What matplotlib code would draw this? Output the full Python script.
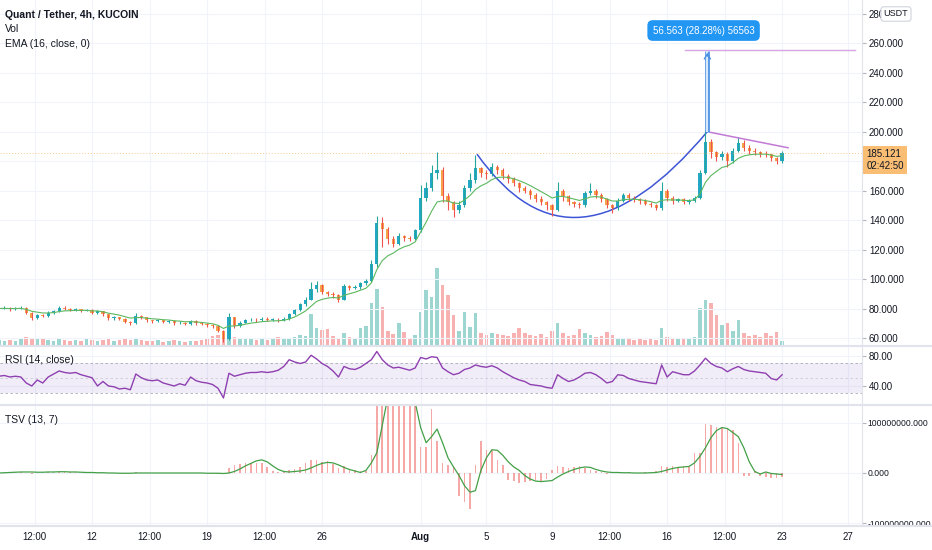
import numpy as np
import pandas as pd
import matplotlib
matplotlib.use("Agg")
import matplotlib.pyplot as plt
from matplotlib.lines import Line2D
from matplotlib.path import Path
from matplotlib.patches import PathPatch
from matplotlib.ticker import FuncFormatter
from matplotlib.transforms import blended_transform_factory

plt.rcParams['font.family'] = ['Liberation Sans', 'DejaVu Sans']

# ---- data, 8h bars (days counted from Jul 12) ----
close = [80, 80.5, 79.5, 80, 80.5, 77, 73.5, 75.5, 75, 77, 78, 80.5,
         80, 79, 79.5, 78.5, 79, 77, 78, 76, 73.5, 74, 73, 71,
         70, 75, 74, 72, 71.5, 72, 71, 71.5, 70, 70.5, 69.5, 71.5,
         70, 69.5, 68.5, 68, 65, 59, 74, 68, 70.5, 72, 72.5, 72,
         73, 72.5, 72.5, 72, 73, 76, 79, 83, 86, 93, 96, 91,
         90, 89, 86, 95, 94, 94.5, 97, 98.5, 110, 138, 134, 127,
         124, 129, 128, 127, 133, 155, 162, 172, 174, 156, 152, 147,
         150, 162, 167, 175, 172, 171, 176, 174, 170, 168, 165, 162,
         160, 157, 154, 152, 150, 147, 160, 156, 152, 151, 150, 158,
         160, 157, 154, 150, 148, 153, 157, 155, 154, 153, 151, 150,
         148, 160, 155, 153, 154, 152, 153, 155, 172, 193, 186, 183,
         185, 180, 187, 192, 189, 187, 186, 185, 184.5, 182, 180, 185.121]

high = [81.5, 82, 81, 81, 82, 81, 77.5, 76.5, 76.5, 78, 79, 81.5,
        81.5, 80.5, 80.5, 80, 80, 79.5, 79, 78.5, 76.5, 75, 74.5, 73.5,
        71.5, 77, 75.5, 74.5, 72.5, 73, 72.5, 72.5, 72, 71.5, 71, 72.5,
        72, 71, 70, 69.5, 68.5, 65.5, 77, 74.5, 71.5, 73, 73.5, 73.5,
        74, 74, 73.5, 73.5, 74, 77, 80, 84, 87.5, 98, 98.5, 96.5,
        92, 91, 89.5, 96.5, 96, 96, 98, 100, 113, 143, 142, 135,
        129, 131, 130, 129.5, 134, 164, 166, 177, 186, 176, 158, 153,
        153, 164, 172, 184, 176, 174, 179, 177, 175, 171, 169, 166,
        163, 161, 158, 156, 153, 151, 166, 161, 157, 153, 152, 160,
        165, 161, 158, 155, 151, 155, 158, 158, 156, 155, 154, 152,
        151, 166, 161, 156, 155, 155, 154, 156, 174, 201, 195, 187,
        187, 186, 189, 196, 194, 191, 189, 187, 186.5, 185, 183, 187]

low = [79, 79.5, 78.5, 79, 79.5, 76, 72.5, 73, 74, 74.5, 76.5, 77.5,
       79, 78, 78.5, 77.5, 78, 76, 76.5, 75, 72.5, 72.5, 72, 70,
       69, 69.5, 73, 71, 70.5, 71, 70, 70.5, 69, 69.5, 68.5, 69,
       69, 68.5, 67.5, 67, 64, 57.5, 58.5, 66.5, 67.5, 70, 71.5, 71,
       71.5, 71.5, 71.5, 71, 71.5, 72.5, 75.5, 78.5, 82, 85.5, 91, 89.5,
       88.5, 87, 84.5, 85.5, 92.5, 93, 93.5, 96, 98, 108, 122, 124,
       121.5, 123, 126, 125.5, 126.5, 132, 153, 160, 168, 152, 147, 142,
       145, 149, 160, 165, 169, 168, 170, 171, 168, 165, 163, 159,
       158, 154, 152, 150, 147, 143, 146, 153, 150, 149, 148, 149,
       157, 155, 152, 148, 145, 147, 152, 153, 152, 151, 150, 149,
       147, 147, 153, 151, 152, 151, 151, 152, 154, 171, 182, 180,
       181, 176, 179, 186, 187, 185, 184, 183, 183, 180, 178, 179]

# volume, thousands
volume = [25, 20, 25, 20, 30, 40, 35, 30, 35, 25, 20, 30,
          25, 20, 25, 20, 30, 25, 20, 25, 30, 20, 25, 30,
          25, 35, 25, 20, 20, 25, 15, 20, 25, 20, 15, 20,
          20, 25, 35, 45, 50, 70, 90, 40, 35, 30, 35, 25,
          30, 25, 30, 40, 35, 30, 40, 50, 45, 155, 85, 75,
          80, 45, 35, 60, 40, 30, 85, 95, 210, 280, 190, 70,
          55, 110, 65, 30, 50, 165, 275, 240, 385, 300, 250, 150,
          70, 165, 90, 160, 60, 50, 60, 55, 50, 45, 60, 85,
          60, 50, 45, 55, 40, 70, 110, 60, 45, 50, 80, 60,
          50, 40, 45, 65, 50, 35, 30, 30, 25, 30, 25, 30,
          25, 85, 40, 35, 30, 35, 30, 40, 185, 225, 210, 150,
          100, 110, 70, 125, 60, 45, 50, 40, 60, 45, 65, 20]

rsi = [53, 54, 52, 53, 52, 44, 40, 48, 44, 52, 56, 60,
       58, 57, 58, 55, 53, 51, 40, 46, 40, 39, 36, 37,
       35, 56, 51, 48, 47, 48, 44, 42, 40, 43, 41, 52,
       47, 45, 44, 42, 37, 24, 57, 53, 55, 57, 58, 58,
       59, 58, 59, 61, 66, 75, 72, 70, 72, 81, 76, 70,
       66, 60, 52, 66, 63, 62, 65, 70, 75, 86, 75, 68,
       64, 65, 63, 61, 64, 78, 76, 79, 78, 64, 59, 55,
       57, 62, 64, 68, 66, 65, 67, 64, 59, 55, 51, 48,
       46, 42, 41, 40, 38, 37, 55, 50, 46, 48, 52, 57,
       58, 55, 50, 44, 46, 55, 54, 50, 48, 46, 45, 44,
       43, 68, 52, 59, 57, 55, 55, 60, 68, 77, 70, 66,
       64, 59, 63, 66, 62, 60, 59, 58, 57, 50, 48, 55]

# TSV histogram and its signal line, millions
tsv = [0.5, 1, 1, 1.5, 1, -1, -1.5, 0.5, 0, 1, 1.5, 2,
       1.5, 1, 1, 0.5, 0.5, -0.5, 0, -0.5, -1, -0.5, -0.5, -1,
       -1, 1, 0.5, -0.5, -0.5, 0, -0.5, 0, -0.5, 0, -0.5, 0.5,
       0, -0.5, -1, -1, -1.5, -2, 10, 15, 18, 19, 20, 19,
       20, 12, 3, 2, 3, 5, 8, 12, 20, 26, 25, 22,
       24, 18, 10, 14, 8, 5, 4, 4, 35, 150, 180, 200,
       190, 170, 160, 150, 140, 52, 52, 126, 64, 20, 15, 13,
       -45, -58, -71, 16, 64, 45, 45, 26, 16, -13, -16, -19,
       -18, -15, -14, -16, -12, 5, 13, 12, 10, 11, 13, 10,
       6, 3, 1, -2, 1, 2, 0, 1, -1, 0, 1, 2,
       3, 13, 12, 13, 12, 14, 13, 39, 40, 97, 95, 92,
       90, 88, 85, 60, -6, -5, 4, -6, -8, -9, -10, -7]

tsv_sig = [0, 0.5, 1, 1.5, 2, 2, 2, 1.5, 1.5, 2, 2, 2.5,
           2.5, 2, 2, 1.5, 1, 1, 0.5, 0.5, 0, 0, -0.5, -0.5,
           -0.5, 0, 0, 0, 0, 0, 0, 0, 0, 0, 0, 0,
           0, 0, -0.5, -0.5, -0.5, -1, 0, 3, 8, 14, 19, 24,
           26, 22, 14, 7, 3, 2, 3, 4, 6, 10, 15, 19,
           21, 20, 16, 11, 7, 4, 1, 5, 20, 40, 95, 150,
           170, 175, 170, 160, 140, 90, 60, 72, 87, 60, 30, 12,
           -5, -25, -38, -35, 5, 30, 46, 45, 35, 22, 12, 5,
           -5, -12, -16, -17, -16, -15, -8, -2, 3, 7, 10, 12,
           11, 7, 4, 2, 1, 1, 0.5, 0.5, 0, 0, 0, 0.5,
           1, 3, 6, 9, 11, 12, 13, 20, 33, 50, 70, 84,
           90, 88, 80, 72, 50, 22, 3, -2, 2, -1, -2, -3]

tick_days = [-3.5, 0, 3.5, 7, 10.5, 14, 20, 24, 28, 31.5, 35, 38.5, 42, 46]
tick_text = ['12:00', '12', '12:00', '19', '12:00', '26', 'Aug', '5', '9',
             '12:00', '16', '12:00', '23', '27']

# drawings (day, price)
arc_start, arc_low, arc_end = (23.43, 184.7), (29.88, 142.0), (37.45, 200.0)
target_price = 255.3
wedge_line = [(37.61, 199.5), (42.36, 189.0)]
target_line = [36.09, 46.44]
range_text = '56.563 (28.28%) 56563'

W, H = 932, 550
n = len(close)
close = np.array(close)
high = np.array(high)
low = np.array(low)
opn = np.r_[close[0], close[:-1]]
days = 42 - (n - 1 - np.arange(n)) / 3.0
is_up = close >= opn

UP_BODY, DN_BODY = '#22a9c8', '#f7a448'
UP_WICK, DN_WICK = '#26a69a', '#ef5350'
TXT = '#131722'
GRID = '#f0f3fa'
FS = 7.5


def rect(x0, y0, x1, y1):
    return [x0 / W, 1 - y1 / H, (x1 - x0) / W, (y1 - y0) / H]


def style(a, size=7):
    for s in ['top', 'left', 'bottom']:
        a.spines[s].set_visible(False)
    a.spines['right'].set_color('#e0e3eb')
    a.yaxis.tick_right()
    a.tick_params(axis='y', length=3, color='#b2b5be', labelsize=size,
                  labelcolor=TXT, pad=2)
    a.tick_params(axis='x', length=0, labelbottom=False)
    a.set_xticks(tick_days)
    a.grid(True, color=GRID, lw=0.8)
    a.set_axisbelow(True)
    a.set_xlim(-5.6, 46.86)


fig = plt.figure(figsize=(W / 100, H / 100), dpi=100)

# volume pane lies under the price pane
axv = fig.add_axes(rect(0, 0, 862, 345))
axv.axis('off')
axv.bar(days, volume, width=0.22,
        color=np.where(is_up, UP_WICK, DN_WICK), alpha=0.45, linewidth=0)
axv.set_ylim(0, 1725)
axv.set_xlim(-5.6, 46.86)

ax = fig.add_axes(rect(0, 0, 862, 345))
ax.patch.set_visible(False)
style(ax)
ax.set_ylim(55.25, 289.2)
ax.set_yticks(np.arange(60, 281, 20))
# the 180 label sits under the last-price tag
ax.yaxis.set_major_formatter(FuncFormatter(lambda v, p: '' if abs(v - 180) < 1 else f'{v:.3f}'))

ax.vlines(days, low, high, colors=np.where(is_up, UP_WICK, DN_WICK), lw=0.8)
body_h = np.maximum(np.abs(close - opn), 0.3)
ax.bar(days, body_h, bottom=np.minimum(opn, close), width=0.2,
       color=np.where(is_up, UP_BODY, DN_BODY), linewidth=0)

ema = pd.Series(close).ewm(span=8, adjust=False).mean()
ax.plot(days, ema, color='#5cb85f', lw=0.8)

ax.axhline(close[-1], color='#f7a448', lw=0.7, ls=(0, (1, 2)), alpha=0.6)

# cup arc
ctrl = (2 * arc_low[0] - (arc_start[0] + arc_end[0]) / 2,
        2 * arc_low[1] - (arc_start[1] + arc_end[1]) / 2)
arc = Path([arc_start, ctrl, arc_end], [Path.MOVETO, Path.CURVE3, Path.CURVE3])
ax.add_patch(PathPatch(arc, fc='none', ec='#3f55d6', lw=1.1))

# handle line and target
ax.plot([p[0] for p in wedge_line], [p[1] for p in wedge_line],
        color='#c27ad6', lw=1.1)
ax.plot(target_line, [target_price] * 2, color='#d7a4e4', lw=1)

# price range arrow: hollow shaft with open head
ax.plot([arc_end[0]] * 2, [arc_end[1], target_price - 0.5], color='#4a90e2',
        lw=3.4, solid_capstyle='butt')
ax.plot([arc_end[0]] * 2, [arc_end[1], target_price - 0.5], color='#d6e9fc',
        lw=1.6, solid_capstyle='butt')
ax.annotate('', xy=(arc_end[0], target_price), xytext=(arc_end[0], target_price - 6),
            arrowprops=dict(arrowstyle='->,head_length=0.35,head_width=0.22',
                            color='#4a90e2', lw=1))
ax.text(37.22, 268.5, range_text, ha='center', va='center', color='white',
        fontsize=7, bbox=dict(boxstyle='round,pad=0.55', fc='#2196f3', ec='none'))

# last price tag
bt = blended_transform_factory(ax.transAxes, ax.transData)
ax.text(1.005, 188.4, '185.121\n02:42:50', transform=bt, ha='left', va='top',
        fontsize=7, color=TXT, linespacing=1.3, clip_on=False,
        bbox=dict(boxstyle='square,pad=0.3', fc='#f9bd74', ec='none'))

fig.text(896 / W, 1 - 14 / H, 'USDT', ha='center', va='center', fontsize=6.5,
         color=TXT, bbox=dict(boxstyle='round,pad=0.3', fc='white', ec='#d1d4dc', lw=0.8))

fig.text(5 / W, 1 - 15 / H, 'Quant / Tether, 4h, KUCOIN', fontsize=FS,
         fontweight='bold', color=TXT, va='center')
fig.text(5 / W, 1 - 29 / H, 'Vol', fontsize=FS, color=TXT, va='center')
fig.text(5 / W, 1 - 44 / H, 'EMA (16, close, 0)', fontsize=FS, color=TXT, va='center')

# RSI pane
axr = fig.add_axes(rect(0, 346, 862, 404), sharex=ax)
style(axr)
axr.set_ylim(16, 93.3)
axr.set_yticks([40, 80])
axr.yaxis.set_major_formatter(FuncFormatter(lambda v, p: f'{v:.2f}'))
axr.axhspan(30, 70, color='#7e57c2', alpha=0.1, lw=0)
for lvl, a in [(70, 0.8), (30, 0.8), (50, 0.4)]:
    axr.axhline(lvl, color='#9598a1', lw=0.6, ls=(0, (3, 3)), alpha=a)
axr.plot(days, rsi, color='#8e3fb0', lw=1)
fig.text(5 / W, 1 - 360 / H, 'RSI (14, close)', fontsize=FS, color=TXT, va='center')

# TSV pane
axt = fig.add_axes(rect(0, 406, 862, 526), sharex=ax)
style(axt, size=6.2)
axt.set_ylim(-105, 132.7)
axt.set_yticks([-100, 0, 100])
axt.yaxis.set_major_formatter(FuncFormatter(lambda v, p: f'{v * 1e6:.3f}'))
axt.tick_params(axis='y', pad=1)
axt.bar(days, tsv, width=0.1, color='#ef5350', alpha=0.5, linewidth=0)
axt.plot(days, tsv_sig, color='#43a047', lw=0.9)
fig.text(5 / W, 1 - 420 / H, 'TSV (13, 7)', fontsize=FS, color=TXT, va='center')

axt.tick_params(axis='x', labelbottom=True, labelsize=7, labelcolor=TXT, pad=4)
axt.set_xticklabels(tick_text)
for lab in axt.get_xticklabels():
    if lab.get_text() == 'Aug':
        lab.set_fontweight('bold')
axt.set_xlim(-5.6, 46.86)

for yy in [345.5, 405, 526]:
    fig.add_artist(Line2D([0, 1], [1 - yy / H] * 2, color='#e0e3eb', lw=1.5,
                          transform=fig.transFigure))

fig.savefig('out.png', dpi=100)
